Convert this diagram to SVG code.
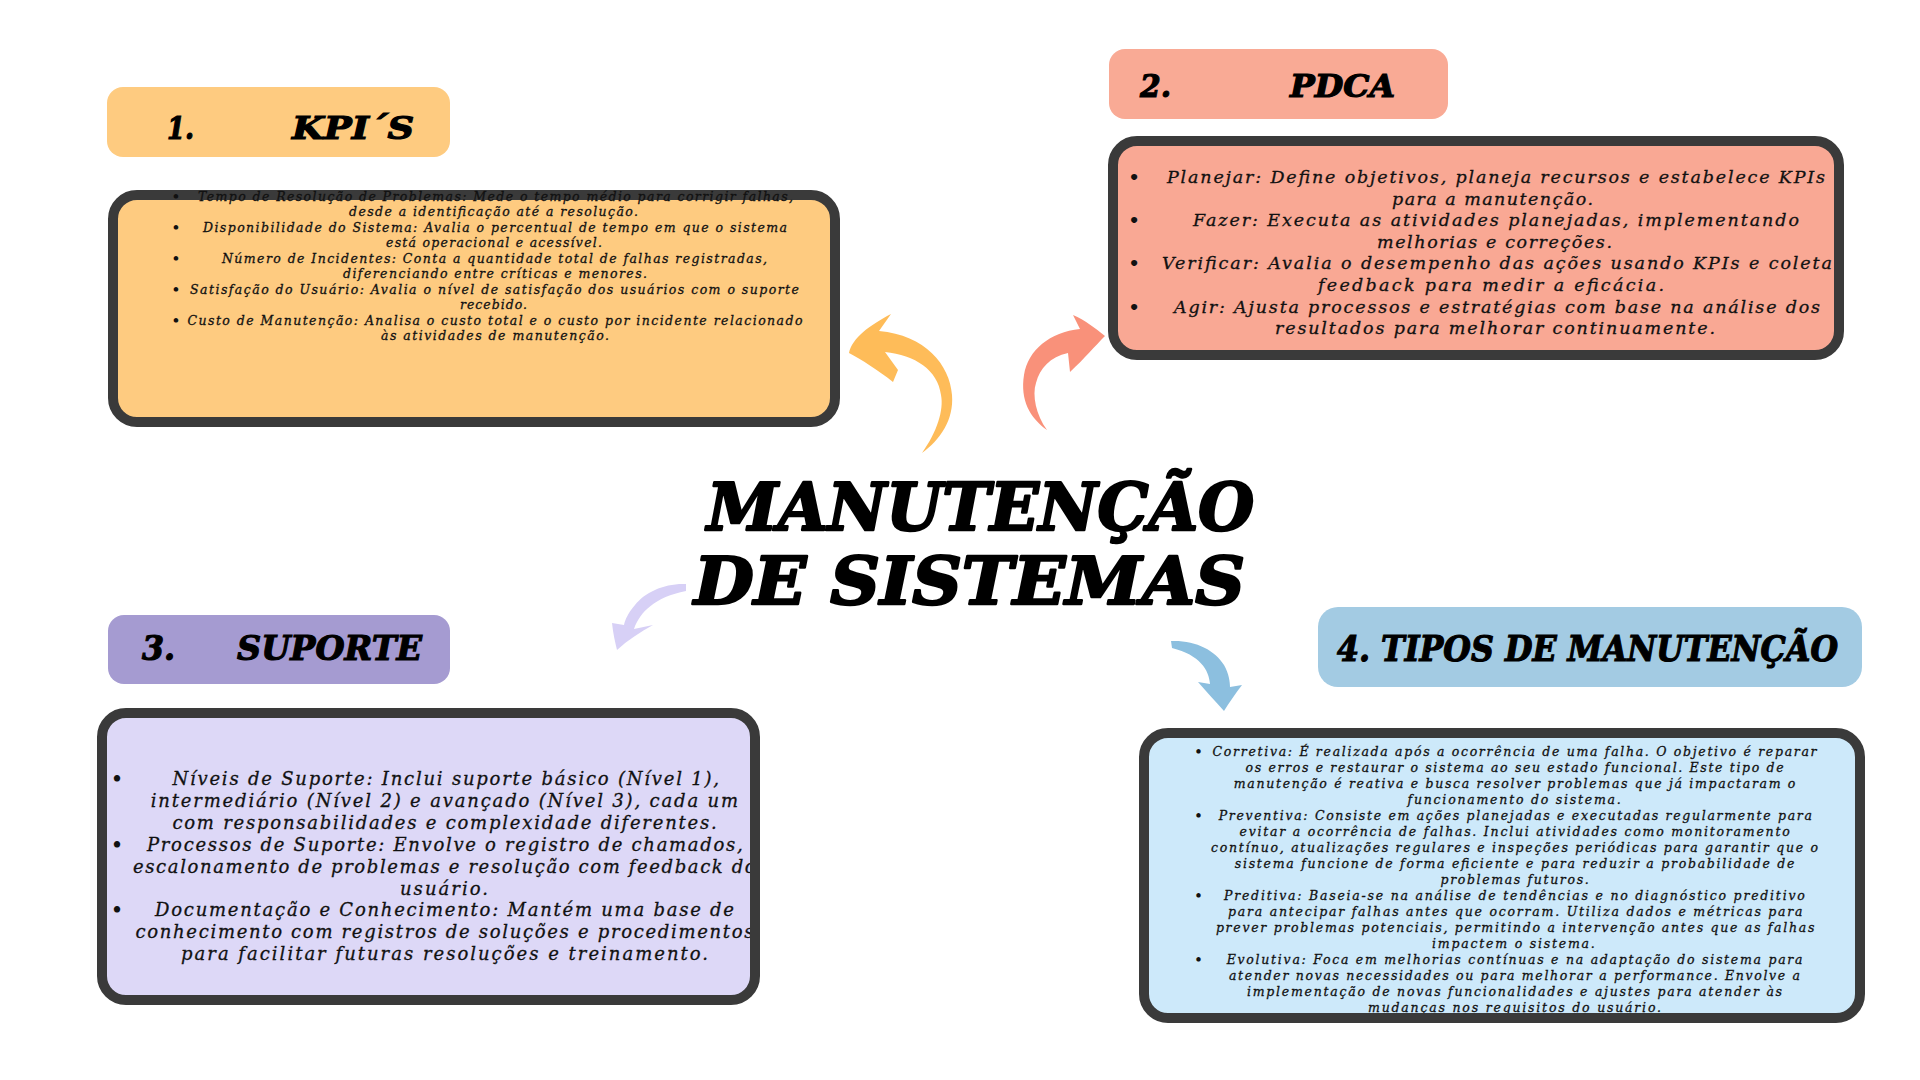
<svg xmlns="http://www.w3.org/2000/svg" width="1920" height="1080" viewBox="0 0 1920 1080">
<style>
.lbl{font-family:"DejaVu Serif",serif;font-weight:bold;font-style:italic;fill:#000;stroke:#000;stroke-width:1.2}
.title{font-family:"DejaVu Serif",serif;font-weight:bold;font-style:italic;font-size:66px;fill:#000;stroke:#000;stroke-width:2.5;stroke-linejoin:round}
.body{font-family:"DejaVu Serif",serif;font-style:italic;fill:#111;stroke:#111;stroke-width:0.3}
.k{font-size:12.5px}
.p{font-size:17.5px}
.s{font-size:18px}
.t{font-size:12.5px}
.border{fill:none;stroke:#3a3a3a;stroke-width:10}
.bul{font-family:"DejaVu Serif",serif;font-weight:bold;fill:#111;text-anchor:middle}
</style>
<rect x="0" y="0" width="1920" height="1080" fill="#ffffff"/>

<g id="connectors">
<path id="arrow-kpi" fill="#FEBC59" d="M849,353 C852,338 870,325 891,314 L879,331 C925,335 950,365 952,395 C954,420 940,440 922,453 C937,432 944,410 941,395 C938,370 915,355 885,352 L898,370 L893,382 C878,370 862,360 849,353 Z"/>
<path id="arrow-pdca" fill="#F9917A" d="M1105,336 C1095,328 1085,320 1073,315 L1080,329 C1050,332 1028,350 1024,375 C1020,400 1030,418 1047,430 C1036,415 1032,395 1036,383 C1040,368 1050,357 1068,353 L1070,372 C1085,358 1095,346 1105,336 Z"/>
<path id="arrow-suporte" fill="#D7D0F6" d="M686,584 C665,583 645,592 635,605 C628,613 625,620 624,625 L612,623 C613,633 615,642 617,650 C628,640 640,632 653,625 L634,629 C640,612 655,597 686,591 Z"/>
<path id="arrow-tipos" fill="#8CBFDF" d="M1171,641 C1195,640 1215,650 1224,665 C1229,674 1230,682 1230,687 L1242,685 C1235,694 1229,703 1224,711 C1215,701 1206,691 1198,682 L1210,684 C1209,670 1200,655 1172,648 Z"/>
</g>

<g id="title">
<text class="title" x="707" y="530" textLength="547" lengthAdjust="spacingAndGlyphs">MANUTENÇÃO</text>
<text class="title" x="694" y="604" textLength="551" lengthAdjust="spacingAndGlyphs">DE SISTEMAS</text>
</g>

<g id="node-kpi">
<rect x="107" y="87" width="343" height="70" rx="16" fill="#FECB80"/>
<text class="lbl" x="167" y="139" font-size="32" textLength="27" lengthAdjust="spacingAndGlyphs">1.</text>
<text class="lbl" x="292" y="139" font-size="32" textLength="122" lengthAdjust="spacingAndGlyphs">KPI´S</text>
<rect x="113" y="195" width="722" height="227" rx="24" fill="#FECB80"/>
<rect class="border" x="113" y="195" width="722" height="227" rx="24"/>
<g class="body k">
<text x="198" y="200.5" textLength="595">Tempo de Resolução de Problemas: Mede o tempo médio para corrigir falhas,</text>
<text x="349" y="216" textLength="289">desde a identificação até a resolução.</text>
<text x="203" y="231.5" textLength="584">Disponibilidade do Sistema: Avalia o percentual de tempo em que o sistema</text>
<text x="386" y="247" textLength="216">está operacional e acessível.</text>
<text x="222" y="262.5" textLength="545">Número de Incidentes: Conta a quantidade total de falhas registradas,</text>
<text x="343" y="278" textLength="304">diferenciando entre críticas e menores.</text>
<text x="190" y="293.5" textLength="609">Satisfação do Usuário: Avalia o nível de satisfação dos usuários com o suporte</text>
<text x="460" y="309" textLength="67">recebido.</text>
<text x="187.5" y="324.5" textLength="615">Custo de Manutenção: Analisa o custo total e o custo por incidente relacionado</text>
<text x="381" y="340" textLength="228">às atividades de manutenção.</text>
</g>
<g class="bul" font-size="13">
<text x="176" y="200.5">•</text><text x="176" y="231.5">•</text><text x="176" y="262.5">•</text><text x="176" y="293.5">•</text><text x="176" y="324.5">•</text>
</g>
</g>

<g id="node-pdca">
<rect x="1109" y="49" width="339" height="70" rx="16" fill="#F9AA95"/>
<text class="lbl" x="1140" y="97" font-size="32" textLength="31" lengthAdjust="spacingAndGlyphs">2.</text>
<text class="lbl" x="1290" y="97" font-size="32" textLength="105" lengthAdjust="spacingAndGlyphs">PDCA</text>
<rect x="1113" y="141" width="726" height="214" rx="24" fill="#F9A894"/>
<g class="body p">
<text x="1167" y="183" textLength="658">Planejar: Define objetivos, planeja recursos e estabelece KPIs</text>
<text x="1392" y="204.6" textLength="201">para a manutenção.</text>
<text x="1193" y="226.2" textLength="606">Fazer: Executa as atividades planejadas, implementando</text>
<text x="1377" y="247.8" textLength="235">melhorias e correções.</text>
<text x="1162" y="269.4" textLength="670">Verificar: Avalia o desempenho das ações usando KPIs e coleta</text>
<text x="1318" y="291" textLength="346">feedback para medir a eficácia.</text>
<text x="1174" y="312.6" textLength="646">Agir: Ajusta processos e estratégias com base na análise dos</text>
<text x="1275" y="334.2" textLength="440">resultados para melhorar continuamente.</text>
</g>
<g class="bul" font-size="17.5">
<text x="1134" y="183">•</text><text x="1134" y="226.2">•</text><text x="1134" y="269.4">•</text><text x="1134" y="312.6">•</text>
</g>
<rect class="border" x="1113" y="141" width="726" height="214" rx="24"/>
</g>

<g id="node-suporte">
<rect x="108" y="615" width="342" height="69" rx="16" fill="#A59BD1"/>
<text class="lbl" x="142" y="660" font-size="34" textLength="33" lengthAdjust="spacingAndGlyphs">3.</text>
<text class="lbl" x="237" y="660" font-size="34" textLength="185" lengthAdjust="spacingAndGlyphs">SUPORTE</text>
<rect x="102" y="713" width="653" height="287" rx="24" fill="#DDD8F7"/>
<g class="body s">
<text x="172.4" y="785" textLength="546.6">Níveis de Suporte: Inclui suporte básico (Nível 1),</text>
<text x="150.7" y="806.9" textLength="587.3">intermediário (Nível 2) e avançado (Nível 3), cada um</text>
<text x="172.4" y="828.8" textLength="544.3">com responsabilidades e complexidade diferentes.</text>
<text x="147" y="850.7" textLength="595.7">Processos de Suporte: Envolve o registro de chamados,</text>
<text x="133" y="872.6" textLength="622.7">escalonamento de problemas e resolução com feedback do</text>
<text x="400" y="894.5" textLength="88">usuário.</text>
<text x="155" y="916.4" textLength="579">Documentação e Conhecimento: Mantém uma base de</text>
<text x="135.5" y="938.3" textLength="618">conhecimento com registros de soluções e procedimentos</text>
<text x="181" y="960.2" textLength="527">para facilitar futuras resoluções e treinamento.</text>
</g>
<g class="bul" font-size="18">
<text x="117" y="785">•</text><text x="117" y="850.7">•</text><text x="117" y="916.4">•</text>
</g>
<rect class="border" x="102" y="713" width="653" height="287" rx="24"/>
</g>

<g id="node-tipos">
<rect x="1318" y="607" width="544" height="80" rx="20" fill="#A3CBE3"/>
<text class="lbl" x="1337" y="661" font-size="35" textLength="501" lengthAdjust="spacingAndGlyphs">4. TIPOS DE MANUTENÇÃO</text>
<rect x="1144" y="733" width="716" height="285" rx="24" fill="#CDE9FA"/>
<g class="body t">
<text x="1212.6" y="756" textLength="604">Corretiva: É realizada após a ocorrência de uma falha. O objetivo é reparar</text>
<text x="1245.6" y="772" textLength="538">os erros e restaurar o sistema ao seu estado funcional. Este tipo de</text>
<text x="1233.8" y="788" textLength="561.6">manutenção é reativa e busca resolver problemas que já impactaram o</text>
<text x="1407.5" y="804" textLength="213.3">funcionamento do sistema.</text>
<text x="1218.7" y="820" textLength="593.2">Preventiva: Consiste em ações planejadas e executadas regularmente para</text>
<text x="1239.5" y="836" textLength="550.2">evitar a ocorrência de falhas. Inclui atividades como monitoramento</text>
<text x="1211" y="852" textLength="607">contínuo, atualizações regulares e inspeções periódicas para garantir que o</text>
<text x="1234.8" y="868" textLength="559.6">sistema funcione de forma eficiente e para reduzir a probabilidade de</text>
<text x="1440.5" y="884" textLength="148.2">problemas futuros.</text>
<text x="1224" y="900" textLength="580.8">Preditiva: Baseia-se na análise de tendências e no diagnóstico preditivo</text>
<text x="1228" y="916" textLength="574.5">para antecipar falhas antes que ocorram. Utiliza dados e métricas para</text>
<text x="1215.9" y="932" textLength="598.4">prever problemas potenciais, permitindo a intervenção antes que as falhas</text>
<text x="1432" y="948" textLength="162.8">impactem o sistema.</text>
<text x="1226.7" y="964" textLength="575.8">Evolutiva: Foca em melhorias contínuas e na adaptação do sistema para</text>
<text x="1229" y="980" textLength="571">atender novas necessidades ou para melhorar a performance. Envolve a</text>
<text x="1247" y="996" textLength="535">implementação de novas funcionalidades e ajustes para atender às</text>
<text x="1368" y="1012" textLength="293">mudanças nos requisitos do usuário.</text>
</g>
<g class="bul" font-size="12.5">
<text x="1198.5" y="756">•</text><text x="1198.5" y="820">•</text><text x="1198.5" y="900">•</text><text x="1198.5" y="964">•</text>
</g>
<rect class="border" x="1144" y="733" width="716" height="285" rx="24"/>
</g>
</svg>
